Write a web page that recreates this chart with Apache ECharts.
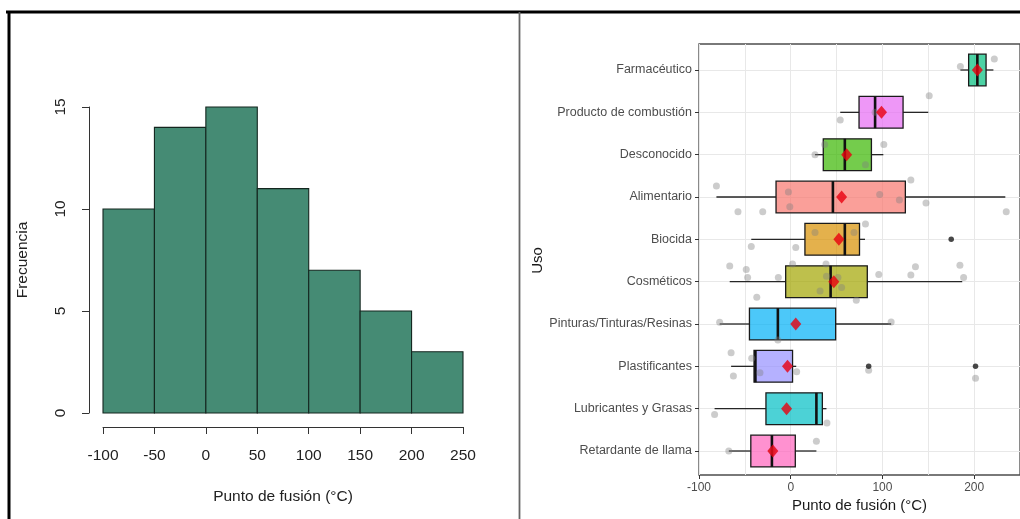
<!DOCTYPE html>
<html><head><meta charset="utf-8">
<script src="https://cdn.jsdelivr.net/npm/echarts@6/dist/echarts.min.js"></script>
<style>html,body{margin:0;padding:0;background:#fff}#c{width:1020px;height:519px}</style>
</head><body><div id="c"></div>
<script>
// ---------- Histogram data ----------
const binEdges = [-100, -50, 0, 50, 100, 150, 200, 250];
const binCounts = [10, 14, 15, 11, 7, 5, 3];

// ---------- Boxplot data ----------
const usos = ['Farmacéutico', 'Producto de combustión', 'Desconocido', 'Alimentario', 'Biocida',
  'Cosméticos', 'Pinturas/Tinturas/Resinas', 'Plastificantes', 'Lubricantes y Grasas', 'Retardante de llama'];
const whiskerLow  = [185, 54, 26.5, -81, -43, -66.5, -77.5, -65, -83, -67.5];
const q1          = [194, 74.5, 35.5, -16, 15.5, -5.5, -45, -40, -27, -43.5];
const median      = [203.5, 92, 59, 46, 59, 43.5, -14, -38.5, 28, -20.5];
const q3          = [213, 122.5, 88, 125, 75, 83.5, 49, 2, 34.5, 5];
const whiskerHigh = [221, 150, 101, 234, 81, 187, 109.5, 6, 39, 28];
const means       = [203.5, 99, 61, 55.5, 52.5, 47, 5.5, -3.5, -4.5, -19.5];
// jittered raw points: category index, value, vertical jitter (category units)
const ptCat = [0,0, 1,1,1, 2,2,2,2, 3,3,3,3,3,3,3,3,3,3, 4,4,4,4,4,
  5,5,5,5,5,5,5,5,5,5,5,5,5,5,5,5,5, 6,6,6, 7,7,7,7,7,7,7, 8,8, 9,9,9];
const ptVal = [185,222, 54,92,151, 26.5,37,81.5,101.5,
  -81,-57.5,-30.5,-2.5,-1,97,118.5,131,147.5,235,
  -43,5.5,26.5,69,81.5,
  -66.5,-48.5,-47,-37,-13.5,2,32,38.5,39,51.5,55.5,71.5,96,131,136,184.5,188.5,
  -77.5,-14,109.5,
  -65,-62.5,-42.5,-33.5,6.5,85,201.5,
  -83,39.5,
  -67.5,-20.5,28];
const ptJit = [-0.08,-0.26, 0.18,0,-0.39, 0,-0.24,0.24,-0.24,
  -0.26,0.35,0.35,-0.12,0.23,-0.06,0.07,-0.4,0.14,0.35,
  0.17,0.19,-0.16,-0.16,-0.36,
  -0.37,-0.29,-0.1,0.37,-0.1,-0.42,0.22,-0.42,-0.13,-0.1,0.14,0.44,-0.17,-0.16,-0.35,-0.39,-0.1,
  -0.04,0.38,-0.05,
  -0.32,0.23,-0.19,0.15,0.13,0.09,0.28,
  0.14,0.34,
  0,0,-0.23];
// outliers drawn by the boxplot
const outCat = [4, 7, 7];
const outVal = [175, 85, 201.5];

// palette (ggplot hue, alphabetical levels)
const fills = ['#00BF7D','#E76BF3','#39B600','#F8766D','#D89000','#A3A500','#00B0F6','#9590FF','#00BFC4','#FF62BC'];

const FONT = "'Liberation Sans', Arial, sans-serif";
function rgba(hex, a) {
  const r = parseInt(hex.slice(1,3),16), g = parseInt(hex.slice(3,5),16), b = parseInt(hex.slice(5,7),16);
  return 'rgba(' + r + ',' + g + ',' + b + ',' + a + ')';
}

const histData = binCounts.map((c, i) => [binEdges[i], binEdges[i + 1], c]);
const boxData = usos.map((u, i) => [i + 1, whiskerLow[i], q1[i], median[i], q3[i], whiskerHigh[i], i]);
const jitterData = ptVal.map((v, k) => [v, ptCat[k] + 1 + ptJit[k]]);
const outlierData = outVal.map((v, k) => [v, outCat[k] + 1]);
const meanData = means.map((m, i) => [m, i + 1]);

const chart = echarts.init(document.getElementById('c'), null, {renderer: 'canvas'});
chart.setOption({
  animation: false,
  backgroundColor: '#ffffff',
  textStyle: {fontFamily: FONT},
  grid: [
    {left: 699, width: 323, top: 70, height: 381, show: false},
    {left: 699, width: 323, top: 44, height: 431, show: true, borderColor: '#4d4d4d', borderWidth: 1.3, backgroundColor: 'rgba(0,0,0,0)'},
    {left: 103, width: 360, top: 107, height: 306}
  ],
  xAxis: [
    {gridIndex: 0, type: 'value', min: -100, max: 250, show: false},
    {gridIndex: 1, type: 'value', min: -100, max: 250, interval: 50,
      axisLine: {show: false, onZero: false}, axisTick: {show: false}, axisLabel: {show: false},
      splitLine: {show: true, lineStyle: {color: '#e8e8e8', width: 1}},
      name: 'Punto de fusión (°C)', nameLocation: 'middle', nameGap: 23,
      nameTextStyle: {color: '#1a1a1a', fontSize: 15, fontFamily: FONT}},
    {gridIndex: 2, type: 'value', min: -100, max: 250, interval: 50, offset: 14,
      axisLine: {show: true, onZero: false, lineStyle: {color: '#333', width: 1}},
      axisTick: {show: true, length: 7, lineStyle: {color: '#333'}},
      axisLabel: {color: '#222', fontSize: 15.5, margin: 21, fontFamily: FONT},
      splitLine: {show: false},
      name: 'Punto de fusión (°C)', nameLocation: 'middle', nameGap: 62,
      nameTextStyle: {color: '#222', fontSize: 15.5, fontFamily: FONT}},
    {gridIndex: 1, type: 'value', min: -100, max: 250, interval: 100, position: 'bottom',
      axisLine: {show: false, onZero: false},
      axisTick: {show: true, length: 4, lineStyle: {color: '#333'}},
      axisLabel: {color: '#4d4d4d', fontSize: 12, margin: 7, showMaxLabel: false, fontFamily: FONT},
      splitLine: {show: false}}
  ],
  yAxis: [
    {gridIndex: 0, type: 'value', min: 1, max: 10, interval: 1, inverse: true, position: 'left',
      axisLine: {show: false, onZero: false},
      axisTick: {show: true, length: 4, lineStyle: {color: '#333'}},
      axisLabel: {color: '#4d4d4d', fontSize: 12.5, margin: 7, fontFamily: FONT,
        formatter: v => usos[Math.round(v) - 1] || ''},
      splitLine: {show: true, lineStyle: {color: '#e8e8e8', width: 1}},
      name: 'Uso', nameLocation: 'middle', nameGap: 146,
      nameTextStyle: {color: '#1a1a1a', fontSize: 15, fontFamily: FONT}},
    {gridIndex: 1, type: 'value', min: 0, max: 1, show: false, axisLine: {onZero: false}},
    {gridIndex: 2, type: 'value', min: 0, max: 15, interval: 5, offset: 14, position: 'left',
      axisLine: {show: true, onZero: false, lineStyle: {color: '#333', width: 1}},
      axisTick: {show: true, length: 7, lineStyle: {color: '#333'}},
      axisLabel: {rotate: 90, color: '#222', fontSize: 15.5, margin: 20, fontFamily: FONT},
      splitLine: {show: false},
      name: 'Frecuencia', nameLocation: 'middle', nameGap: 58,
      nameTextStyle: {color: '#222', fontSize: 15.5, fontFamily: FONT}}
  ],
  graphic: [
    {type: 'line', shape: {x1: 6, y1: 12, x2: 1020, y2: 12}, style: {stroke: '#000', lineWidth: 3}, z: 100},
    {type: 'line', shape: {x1: 9, y1: 11, x2: 9, y2: 519}, style: {stroke: '#000', lineWidth: 3}, z: 100},
    {type: 'line', shape: {x1: 519.5, y1: 12, x2: 519.5, y2: 519}, style: {stroke: '#666', lineWidth: 1.8}, z: 100}
  ],
  series: [
    {type: 'custom', xAxisIndex: 2, yAxisIndex: 2, data: histData, encode: {x: [0, 1], y: 2},
      renderItem: function (params, api) {
        const p0 = api.coord([api.value(0), api.value(2)]);
        const p1 = api.coord([api.value(1), 0]);
        return {type: 'rect', shape: {x: p0[0], y: p0[1], width: p1[0] - p0[0], height: p1[1] - p0[1]},
          style: {fill: '#458B74', stroke: '#14261f', lineWidth: 1.1}};
      }},
    {type: 'custom', xAxisIndex: 0, yAxisIndex: 0, data: boxData, encode: {y: 0, x: [1, 2, 3, 4, 5]}, z: 2, clip: false,
      renderItem: function (params, api) {
        const y = api.value(0);
        const lo = api.coord([api.value(1), y]);
        const a = api.coord([api.value(2), y]);
        const m = api.coord([api.value(3), y]);
        const b = api.coord([api.value(4), y]);
        const hi = api.coord([api.value(5), y]);
        const h = api.size([0, 1])[1] * 0.75;
        const col = fills[api.value(6)];
        return {type: 'group', children: [
          {type: 'line', shape: {x1: lo[0], y1: lo[1], x2: a[0], y2: a[1]}, style: {stroke: '#262626', lineWidth: 1.3}},
          {type: 'line', shape: {x1: b[0], y1: b[1], x2: hi[0], y2: hi[1]}, style: {stroke: '#262626', lineWidth: 1.3}},
          {type: 'rect', shape: {x: a[0], y: a[1] - h / 2, width: b[0] - a[0], height: h},
            style: {fill: rgba(col, 0.7), stroke: '#1a1a1a', lineWidth: 1.3}},
          {type: 'line', shape: {x1: m[0], y1: m[1] - h / 2, x2: m[0], y2: m[1] + h / 2}, style: {stroke: '#111', lineWidth: 2.6}}
        ]};
      }},
    {type: 'scatter', xAxisIndex: 0, yAxisIndex: 0, data: jitterData, symbol: 'circle', symbolSize: 7, clip: false, z: 3,
      itemStyle: {color: 'rgba(128,128,128,0.5)'}},
    {type: 'scatter', xAxisIndex: 0, yAxisIndex: 0, data: outlierData, symbol: 'circle', symbolSize: 5.5, clip: false, z: 4,
      itemStyle: {color: '#1a1a1a'}},
    {type: 'scatter', xAxisIndex: 0, yAxisIndex: 0, data: meanData, symbol: 'diamond', symbolSize: [11, 13], clip: false, z: 5,
      itemStyle: {color: '#e8000f'}}
  ]
});
</script>
</body></html>
